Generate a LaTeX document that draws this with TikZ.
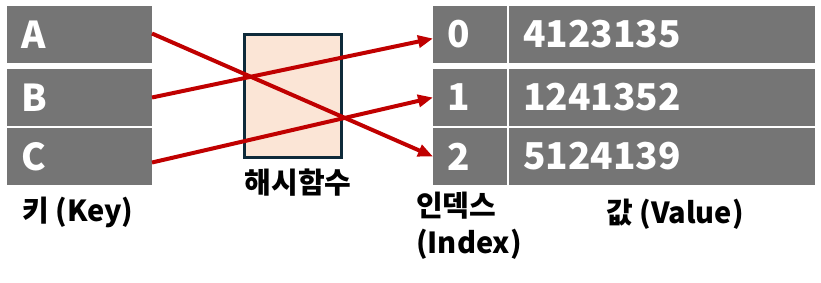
\documentclass[tikz,border=0pt]{standalone}
\usepackage{fontspec}
\setmainfont{Noto Sans CJK KR}
\usetikzlibrary{arrows.meta, positioning}
\definecolor{cellgray}{HTML}{757575}
\definecolor{hashfill}{HTML}{FBE5D6}
\definecolor{hashline}{HTML}{0E2A3A}
\definecolor{arrowred}{HTML}{C00000}

\begin{document}
\begin{tikzpicture}[x=1pt, y=-1pt, >={Triangle[length=15pt, width=12pt]},
  cell/.style={fill=cellgray, text=white, font=\fontsize{37}{37}\selectfont\bfseries, inner ysep=0pt, outer sep=0pt, minimum height=57pt, align=left},
  keybox/.style={cell, inner xsep=14pt, text width=117pt},
  idxbox/.style={cell, inner xsep=14pt, text width=46pt},
  valbox/.style={cell, inner xsep=14pt, text width=278pt},
  hashbox/.style={draw=hashline, line width=3pt, fill=hashfill, minimum width=97pt, minimum height=123pt},
  caption/.style={font=\fontsize{29}{37}\selectfont\bfseries, inner sep=0pt, align=left},
  arr/.style={->, draw=arrowred, line width=4pt}]
\useasboundingbox (0,0) rectangle (821,283);
% keys
\node[keybox, anchor=north west] (keyA) at (7,6) {A};
\node[keybox, below=6pt of keyA] (keyB) {B};
\node[keybox, below=2pt of keyB] (keyC) {C};
% hash function
\node[hashbox] (hash) at (293,96) {};
% table
\node[idxbox, anchor=north west] (idx0) at (433,6) {0};
\node[idxbox, below=6pt of idx0] (idx1) {1};
\node[idxbox, below=2pt of idx1] (idx2) {2};
\node[valbox, right=2pt of idx0] (val0) {4123135};
\node[valbox, right=2pt of idx1] (val1) {1241352};
\node[valbox, right=2pt of idx2] (val2) {5124139};
% captions
\node[caption] (keylabel) at (78,212) {키 (Key)};
\node[caption] (hashlabel) at (298,183) {해시함수};
\node[caption, anchor=north west] (idxlabel) at (416,192) {인덱스\\(Index)};
\node[caption] (vallabel) at (675,214) {값 (Value)};
% mapping
\draw[arr] ([yshift=1pt]keyA.east) -- (idx2.west);
\draw[arr] (keyB.east) -- ([yshift=-4pt]idx0.west);
\draw[arr] ([yshift=-6pt]keyC.east) -- (idx1.west);
\end{tikzpicture}
\end{document}
